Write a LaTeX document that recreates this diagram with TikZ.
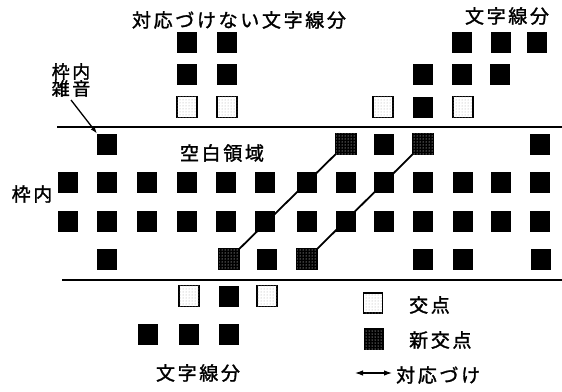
\documentclass[tikz,border=0pt]{standalone}
\usepackage{fontspec}
\setmainfont{Noto Sans CJK JP}[LetterSpace=14,FakeBold=1.5]
\usetikzlibrary{patterns,backgrounds,arrows.meta}
\begin{document}
\begin{tikzpicture}[x=1pt,y=-1pt,
  sq/.style={minimum width=20pt,minimum height=21pt,inner sep=0pt,outer sep=0pt},
  blk/.style={sq,fill=black},
  kou/.style={sq,draw=black,line width=1.8pt,fill=white,postaction={pattern=dots,pattern color=black!35}},
  shin/.style={sq,draw=black,line width=1.8pt,fill=black,postaction={pattern=dots,pattern color=white}},
  lbl/.style={inner sep=0pt,font=\fontsize{19}{21}\selectfont},
  frame/.style={line width=2pt},
  link/.style={line width=1.8pt},
]
\useasboundingbox (0,0) rectangle (562,391);
% frame lines
\coordinate (t1) at (57,127); \coordinate (t2) at (562,127);
\coordinate (b1) at (62,280); \coordinate (b2) at (562,280);
\draw[frame] (t1) -- (t2);
\draw[frame] (b1) -- (b2);
% upper left segment
\node[blk] (u1) at (187,42) {};
\node[blk] (u2) at (227,42) {};
\node[blk] (u3) at (187,74) {};
\node[blk] (u4) at (227,74) {};
\node[kou] (u5) at (187,107) {};
\node[kou] (u6) at (227,107) {};
% upper right segment
\node[blk] (v1) at (462,42) {};
\node[blk] (v2) at (501,42) {};
\node[blk] (v3) at (537,42) {};
\node[blk] (v4) at (423,74) {};
\node[blk] (v5) at (462,74) {};
\node[blk] (v6) at (500,74) {};
\node[kou] (v7) at (383,107) {};
\node[blk] (v8) at (423,107) {};
\node[kou] (v9) at (463,107) {};
% row 144
\node[blk] (noise) at (107,144) {};
\node[shin] (sA) at (346,144) {};
\node[blk] (a2) at (384,144) {};
\node[shin] (sB) at (423,144) {};
\node[blk] (a4) at (540,144) {};
% rows 182 and 221
\foreach \x [count=\i] in {68,107,147,187,226,265,307,346,384,423,463,501,540}{
  \node[blk] (m\i) at (\x,182) {};
  \node[blk] (n\i) at (\x,221) {};
}
% row 259
\node[blk] (p1) at (107,259) {};
\node[shin] (sC) at (229,259) {};
\node[blk] (p3) at (267,259) {};
\node[shin] (sD) at (307,259) {};
\node[blk] (p5) at (423,259) {};
\node[blk] (p6) at (463,259) {};
\node[blk] (p7) at (541,259) {};
% lower segment
\node[kou] (l1) at (189,296) {};
\node[blk] (l2) at (229,296) {};
\node[kou] (l3) at (267,296) {};
\node[blk] (l4) at (148,334) {};
\node[blk] (l5) at (189,334) {};
\node[blk] (l6) at (229,334) {};
% correspondence links
\begin{scope}[on background layer]
\draw[link] (sC.center) -- (sA.center);
\draw[link] (sD.center) -- (sB.center);
\end{scope}
% labels
\node[lbl] (ttl1) at (239,20) {対応づけない文字線分};
\node[lbl] (ttl2) at (507,16) {文字線分};
\node[lbl,align=center,font=\fontsize{18}{17}\selectfont] (nz) at (71,80) {枠内\\雑音};
\node[lbl] (kuhaku) at (222,153) {空白領域};
\node[lbl] (wakunai) at (32,194) {枠内};
\node[lbl] (ttl3) at (198,373) {文字線分};
\coordinate (nzs) at (71,100);
\draw[line width=1.3pt,-{Latex[length=7pt,width=5pt]}] (nzs) -- (noise.north west);
% legend
\node[kou,minimum width=19pt,minimum height=20pt] (lg1) at (373,303) {};
\node[shin,minimum width=19pt,minimum height=20pt] (lg2) at (374,339) {};
\node[lbl,anchor=west] (lt1) at (409,305) {交点};
\node[lbl,anchor=west] (lt2) at (409,340) {新交点};
\coordinate (la1) at (355,373); \coordinate (la2) at (392,373);
\draw[line width=1.1pt,{Latex[length=8pt,width=5.5pt]}-{Latex[length=8pt,width=5.5pt]}] (la1) -- (la2);
\node[lbl,anchor=west] (lt3) at (396,375) {対応づけ};
\end{tikzpicture}
\end{document}
